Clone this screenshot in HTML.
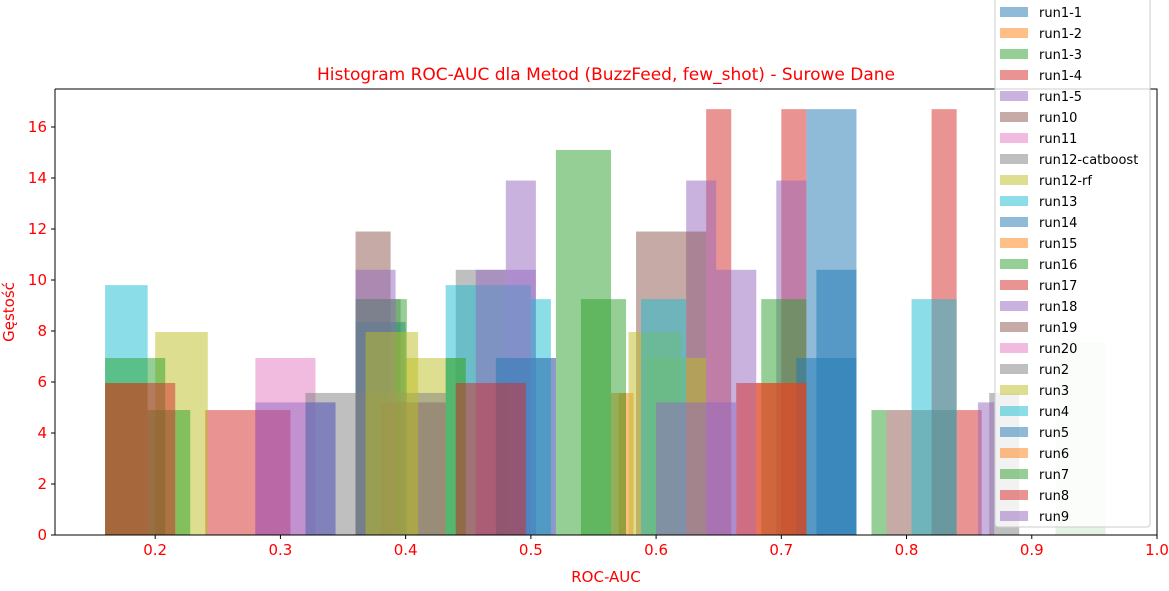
<!DOCTYPE html>
<html><head><meta charset="utf-8"><style>
body{margin:0;background:#fff;font-family:"Liberation Sans","DejaVu Sans",sans-serif;}
svg text{font-family:"DejaVu Sans","Liberation Sans",sans-serif;}
</style></head><body>
<svg id="chart" width="1169" height="586" xmlns="http://www.w3.org/2000/svg">
<text x="606" y="80" font-size="17" fill="red" text-anchor="middle">Histogram ROC-AUC dla Metod (BuzzFeed, few_shot) - Surowe Dane</text>
<g id="bars"></g>
<g id="axes"></g>
<text x="606" y="582" font-size="15" fill="red" text-anchor="middle">ROC-AUC</text>
<text x="14" y="312" font-size="15" fill="red" text-anchor="middle" transform="rotate(-90 14 312)">Gęstość</text>
<g id="legend"></g>
</svg>
<script>
const seriesNames=["run1-1","run1-2","run1-3","run1-4","run1-5","run10","run11","run12-catboost","run12-rf","run13","run14","run15","run16","run17","run18","run19","run20","run2","run3","run4","run5","run6","run7","run8","run9"];
const seriesBins=[
 [[0.720,0.760,16.7]],
 [[0.570,0.582,5.57]],
 [[0.520,0.564,15.1],[0.772,0.784,4.9]],
 [[0.640,0.660,16.7],[0.700,0.720,16.7],[0.820,0.840,16.7]],
 [[0.480,0.504,13.9],[0.624,0.648,13.9],[0.696,0.720,13.9]],
 [[0.360,0.388,11.9],[0.584,0.640,11.9]],
 [],
 [[0.440,0.480,10.4],[0.360,0.396,9.25]],
 [[0.400,0.448,6.94],[0.592,0.640,6.94]],
 [[0.160,0.194,9.8],[0.432,0.500,9.8]],
 [[0.728,0.760,10.4],[0.360,0.400,8.35]],
 [[0.564,0.576,5.57]],
 [[0.360,0.401,9.25],[0.540,0.576,9.25],[0.684,0.720,9.25]],
 [[0.240,0.308,4.9],[0.280,0.308,4.9],[0.840,0.860,4.9]],
 [[0.360,0.392,10.4],[0.456,0.504,10.4],[0.648,0.680,10.4]],
 [[0.380,0.432,5.2],[0.784,0.840,4.9]],
 [[0.280,0.328,6.94],[0.500,0.520,6.94]],
 [[0.320,0.432,5.57],[0.866,0.890,5.57]],
 [[0.200,0.242,7.96],[0.368,0.410,7.96],[0.578,0.620,7.96]],
 [[0.500,0.516,9.25],[0.588,0.624,9.25],[0.804,0.840,9.25]],
 [[0.320,0.344,5.2],[0.472,0.520,6.94],[0.712,0.760,6.94]],
 [[0.160,0.194,5.96],[0.680,0.720,5.96]],
 [[0.160,0.208,6.94],[0.194,0.228,4.9],[0.432,0.448,6.94],[0.919,0.959,7.55]],
 [[0.160,0.216,5.96],[0.440,0.496,5.96],[0.664,0.720,5.96]],
 [[0.280,0.344,5.2],[0.600,0.664,5.2],[0.857,0.870,5.2]]
];
const xTicks=[0.2,0.3,0.4,0.5,0.6,0.7,0.8,0.9,1.0];
const xTickLabels=["0.2","0.3","0.4","0.5","0.6","0.7","0.8","0.9","1.0"];
const yTicks=[0,2,4,6,8,10,12,14,16];
const palette=["#1f77b4","#ff7f0e","#2ca02c","#d62728","#9467bd","#8c564b","#e377c2","#7f7f7f","#bcbd22","#17becf"];
const X0=55,X1=1157,Y0=535,Y1=89,xmin=0.12,xmax=1.0,ymax=17.49;
const xs=v=>X0+(v-xmin)/(xmax-xmin)*(X1-X0);
const ys=v=>Y0-v/ymax*(Y0-Y1);
const NS="http://www.w3.org/2000/svg";
function mk(t,a){const e=document.createElementNS(NS,t);for(const k in a)e.setAttribute(k,a[k]);return e;}
const bars=document.getElementById('bars');
seriesBins.forEach((bins,i)=>{bins.forEach((b,j)=>{
 const r=mk('rect',{x:xs(b[0]),y:ys(b[2]),width:xs(b[1])-xs(b[0]),height:Y0-ys(b[2]),fill:palette[i%10],'fill-opacity':(b[0]>0.9?0.12:0.5)});
 
 
 bars.appendChild(r);});});
const ax=document.getElementById('axes');
const frame=mk('path',{d:`M${X0},${Y1}V${Y0}H${X1}`,stroke:'#000',fill:'none','stroke-width':1});


ax.appendChild(frame);
const fr2=mk('path',{d:`M${X0},${Y1}H${X1}V${Y0}`,stroke:'#000',fill:'none','stroke-width':1});


ax.appendChild(fr2);
xTicks.forEach((v,i)=>{const x=xs(v);
 ax.appendChild(mk('line',{x1:x,x2:x,y1:Y0,y2:Y0+4,stroke:'#000'}));
 const t=mk('text',{x:x,y:Y0+20,'font-size':15,fill:'red','text-anchor':'middle'});t.textContent=xTickLabels[i];
 
 
 ax.appendChild(t);});
yTicks.forEach(v=>{const y=ys(v);
 ax.appendChild(mk('line',{x1:X0-4,x2:X0,y1:y,y2:y,stroke:'#000'}));
 const t=mk('text',{x:X0-8,y:y+5,'font-size':15,fill:'red','text-anchor':'end'});t.textContent=v;
 
 
 ax.appendChild(t);});
const lg=document.getElementById('legend');
const box=mk('rect',{x:995,y:-3,width:155,height:530,rx:3,fill:'#fff','fill-opacity':0.8,stroke:'#ccc'});


lg.appendChild(box);
seriesNames.forEach((n,i)=>{const y=12+i*21;
 const g=mk('g',{});
 
 
 g.appendChild(mk('rect',{x:1000,y:y-5,width:28,height:10,fill:palette[i%10],'fill-opacity':0.5}));
 const t=mk('text',{x:1039,y:y+5,'font-size':13,fill:'#000'});t.textContent=n;g.appendChild(t);
 lg.appendChild(g);});
</script>
</body></html>
